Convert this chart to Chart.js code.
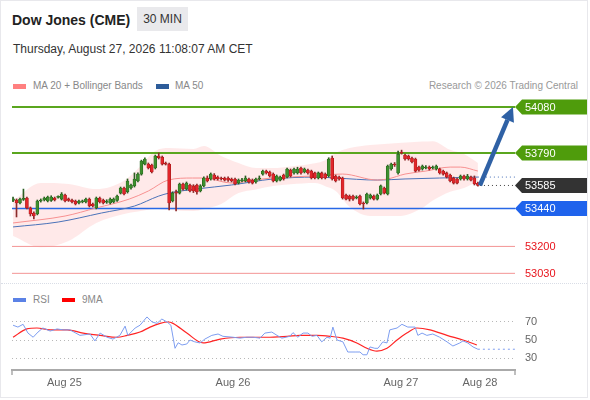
<!DOCTYPE html>
<html>
<head>
<meta charset="utf-8">
<script src="https://cdn.jsdelivr.net/npm/chart.js@4.4.1/dist/chart.umd.min.js"></script>
<style>
  html, body { margin: 0; padding: 0; background: #fff; }
  body { width: 590px; height: 400px; position: relative; overflow: hidden;
         font-family: "Liberation Sans", Arial, sans-serif; }
  .card { position: absolute; left: 0; top: 0; width: 588px; height: 398px;
          border: 1px solid #e8e8ec; box-sizing: border-box; }
  .abs { position: absolute; white-space: nowrap; }
  #title { left: 12px; top: 12px; font-size: 14px; line-height: 16px; font-weight: bold; color: #222; }
  #badge { left: 137px; top: 7px; width: 51px; height: 24px; line-height: 24px; background: #e9e9ec;
           font-size: 12px; color: #333; text-align: center; }
  #date { left: 13px; top: 42px; font-size: 12px; line-height: 14px; color: #333; }
  .leg { font-size: 10px; line-height: 12px; color: #888; }
  .sw { position: absolute; width: 13px; height: 5px; }
  #sep { left: 1px; top: 283px; width: 586px; height: 0; border-top: 1px dotted #d9dde6; }
  canvas { position: absolute; left: 0; }
</style>
</head>
<body>
<div class="card"></div>
<div id="title" class="abs">Dow Jones (CME)</div>
<div id="badge" class="abs">30 MIN</div>
<div id="date" class="abs">Thursday, August 27, 2026 11:08:07 AM CET</div>

<div class="sw" style="left:13px;top:84px;background:#ff8080"></div>
<div class="abs leg" style="left:33px;top:80px">MA 20 + Bollinger Bands</div>
<div class="sw" style="left:156px;top:84px;background:#2d5c9a"></div>
<div class="abs leg" style="left:175px;top:80px">MA 50</div>
<div class="abs leg" style="right:12px;top:80px;color:#999">Research © 2026 Trading Central</div>

<div id="sep" class="abs"></div>

<div class="sw" style="left:13px;top:298px;height:4px;background:#5b82e6"></div>
<div class="abs leg" style="left:33px;top:294px">RSI</div>
<div class="sw" style="left:62px;top:298px;height:4px;background:#ff0000"></div>
<div class="abs leg" style="left:82px;top:294px">9MA</div>

<canvas id="price" width="590" height="190" style="top:96px"></canvas>
<canvas id="rsi" width="590" height="100" style="top:300px"></canvas>

<script>
Chart.defaults.font.family = '"Liberation Sans", Arial, sans-serif';

// --- scales ---
const X_MIN = -0.3;
const X_MAX = 144.7;
const PRICE_MIN = 52950;
const PRICE_MAX = 54150;
const RSI_MIN = 17.5;
const RSI_MAX = 82.5;

// --- 30 min candles ---
const candleOpen = [
  53490, 53493, 53474, 53497, 53506, 53443, 53411, 53405, 53487, 53493,
  53487, 53490, 53506, 53510, 53499, 53525, 53500, 53493, 53487, 53474,
  53481, 53481, 53499, 53468, 53443, 53506, 53493, 53480, 53474, 53481,
  53490, 53537, 53569, 53545, 53569, 53582, 53613, 53657, 53720, 53720,
  53714, 53695, 53771, 53764, 53727, 53720, 53487, 53544, 53537, 53594,
  53562, 53588, 53582, 53588, 53550, 53582, 53632, 53626, 53651, 53638,
  53632, 53632, 53632, 53626, 53626, 53600, 53615, 53613, 53626, 53619,
  53607, 53626, 53657, 53676, 53670, 53657, 53613, 53619, 53651, 53638,
  53682, 53664, 53664, 53695, 53670, 53682, 53676, 53664, 53632, 53664,
  53657, 53645, 53758, 53645, 53638, 53632, 53525, 53518, 53518, 53506,
  53518, 53474, 53474, 53506, 53518, 53499, 53531, 53569, 53531, 53689,
  53720, 53664, 53796, 53777, 53771, 53758, 53752, 53701, 53689, 53695,
  53701, 53695, 53689, 53689, 53676, 53664, 53651, 53632, 53626, 53626,
  53645, 53626, 53638, 53632, 53600
];
const candleHigh = [
  53512, 53500, 53506, 53562, 53512, 53449, 53418, 53493, 53500, 53512,
  53518, 53520, 53512, 53520, 53540, 53531, 53506, 53499, 53493, 53493,
  53493, 53506, 53506, 53474, 53512, 53512, 53499, 53495, 53506, 53506,
  53525, 53575, 53575, 53626, 53594, 53664, 53664, 53745, 53760, 53727,
  53720, 53777, 53790, 53771, 53733, 53727, 53545, 53556, 53600, 53600,
  53607, 53594, 53590, 53594, 53590, 53640, 53645, 53664, 53660, 53645,
  53638, 53638, 53640, 53632, 53632, 53626, 53630, 53645, 53632, 53626,
  53632, 53645, 53682, 53682, 53676, 53664, 53651, 53645, 53657, 53695,
  53689, 53695, 53700, 53701, 53695, 53689, 53682, 53670, 53670, 53670,
  53664, 53760, 53771, 53651, 53645, 53638, 53531, 53525, 53525, 53520,
  53525, 53481, 53537, 53531, 53525, 53531, 53588, 53575, 53714, 53727,
  53730, 53802, 53808, 53783, 53777, 53764, 53758, 53708, 53714, 53710,
  53708, 53708, 53714, 53695, 53682, 53670, 53657, 53638, 53632, 53651,
  53651, 53655, 53645, 53645, 53607
];
const candleLow = [
  53482, 53386, 53468, 53490, 53437, 53392, 53373, 53399, 53480, 53487,
  53481, 53484, 53487, 53504, 53493, 53481, 53484, 53475, 53462, 53468,
  53475, 53475, 53449, 53449, 53437, 53474, 53468, 53472, 53468, 53475,
  53484, 53531, 53525, 53537, 53562, 53575, 53607, 53650, 53714, 53689,
  53664, 53689, 53752, 53714, 53714, 53430, 53481, 53424, 53531, 53556,
  53556, 53544, 53540, 53530, 53544, 53575, 53607, 53619, 53619, 53619,
  53619, 53613, 53610, 53607, 53588, 53594, 53607, 53607, 53600, 53594,
  53600, 53619, 53650, 53657, 53638, 53607, 53607, 53613, 53619, 53632,
  53638, 53657, 53657, 53657, 53664, 53657, 53626, 53626, 53626, 53626,
  53626, 53638, 53619, 53607, 53619, 53499, 53493, 53487, 53490, 53500,
  53462, 53436, 53468, 53499, 53493, 53493, 53525, 53531, 53525, 53682,
  53705, 53657, 53783, 53745, 53745, 53727, 53670, 53676, 53682, 53689,
  53682, 53689, 53682, 53657, 53650, 53632, 53607, 53594, 53594, 53619,
  53619, 53619, 53613, 53588, 53580
];
const candleClose = [
  53500, 53474, 53499, 53500, 53443, 53405, 53392, 53487, 53493, 53506,
  53512, 53512, 53493, 53512, 53531, 53487, 53490, 53481, 53468, 53487,
  53487, 53499, 53455, 53455, 53506, 53481, 53474, 53487, 53499, 53499,
  53518, 53569, 53531, 53613, 53588, 53626, 53657, 53739, 53752, 53695,
  53670, 53771, 53760, 53720, 53720, 53474, 53537, 53537, 53594, 53562,
  53600, 53550, 53550, 53544, 53582, 53632, 53613, 53657, 53626, 53626,
  53626, 53619, 53619, 53613, 53594, 53619, 53620, 53632, 53607, 53600,
  53626, 53632, 53676, 53664, 53645, 53613, 53645, 53638, 53626, 53689,
  53645, 53689, 53689, 53664, 53689, 53664, 53632, 53632, 53664, 53632,
  53632, 53752, 53626, 53613, 53626, 53506, 53499, 53499, 53499, 53512,
  53468, 53468, 53531, 53525, 53499, 53525, 53582, 53537, 53708, 53720,
  53714, 53783, 53790, 53752, 53752, 53733, 53676, 53682, 53708, 53701,
  53689, 53700, 53708, 53664, 53657, 53638, 53613, 53600, 53600, 53645,
  53626, 53645, 53619, 53594, 53585
];

// --- indicators (sampled along the curves) ---
const bandX     = [0, 8, 16, 24, 32, 36, 41, 45, 52, 55, 60, 65, 70, 75, 80, 87, 90, 93, 97, 103, 111, 118, 121, 126, 130, 134];
const bandUpper = [53487, 53600, 53594, 53562, 53615, 53690, 53802, 53821, 53815, 53834, 53771, 53727, 53695, 53695, 53705, 53725, 53745, 53790, 53821, 53840, 53853, 53862, 53865, 53810, 53783, 53727];
const bandLower = [53266, 53195, 53235, 53348, 53405, 53420, 53436, 53430, 53424, 53435, 53468, 53537, 53560, 53582, 53592, 53600, 53580, 53550, 53450, 53392, 53392, 53443, 53490, 53545, 53569, 53613];

const ma20X = [0, 15, 24, 33.5, 39, 44.7, 51.7, 55, 63, 69.5, 74.5, 86.7, 95, 105, 108, 113, 119, 126, 129, 134];
const ma20Y = [53348, 53392, 53443, 53499, 53550, 53619, 53632, 53632, 53600, 53619, 53632, 53645, 53657, 53619, 53626, 53657, 53676, 53701, 53701, 53676];

const ma50X = [0, 13, 25.5, 35, 42, 45, 53, 63, 75, 87, 93, 105, 113, 123, 134];
const ma50Y = [53323, 53354, 53411, 53455, 53518, 53537, 53563, 53588, 53626, 53638, 53632, 53619, 53626, 53632, 53638];

// --- key levels ---
const levelPrices = [54080, 53790, 53440, 53200, 53030];
const lastPrice = 53585;
const tagPrices = [54080, 53790, 53585, 53440, 53200, 53030];

// --- RSI panel ---
const rsiX = [0, 1.4, 2.9, 4.3, 5.8, 7.2, 8.6, 10.7, 12.7, 14.4, 16.4, 19.3, 22.2, 23.6, 25.1, 27.1, 28.8, 30.8, 32.3, 33.1,
  35.2, 36.6, 38.6, 40.1, 41.5, 42.9, 44.4, 45.5, 46.7, 47.6, 48.7, 50.1, 51, 52.4, 53.9, 55.3, 57.3, 59.1, 60.5, 63.4,
  65.4, 67.4, 69.2, 71.2, 72.6, 74.6, 76.1, 77.5, 79.8, 80.7, 82.1, 83.6, 85, 86.2, 87.6, 89, 90.5, 91.4, 92.2, 93.4,
  95.1, 96.5, 98.6, 100, 100.9, 102, 102.9, 104.3, 105.2, 106.6, 107.8, 108.6, 110.7, 112.1, 113.8, 115.9, 116.7, 117.9, 119.3, 121,
  123, 125.1, 126.8, 128.8, 129.7, 131.1, 132.6, 134];
const rsiY = [66, 64, 67, 57.5, 53, 58.6, 63, 59.7, 62, 61, 61, 55, 56.5, 49, 57.5, 53, 51, 55, 65, 55,
  63, 66, 75, 69.5, 68, 72.7, 69.5, 66, 41, 47, 44.6, 45.7, 50, 48, 46.8, 51, 55, 56.5, 54, 53,
  52, 53, 53, 52, 57.5, 58.6, 55, 52, 54, 58, 53, 57.5, 57.5, 54, 55, 48, 53, 52, 64, 50,
  48, 37, 37, 37, 34, 34, 42.5, 41, 41, 48, 46.8, 61, 63, 67, 64, 64, 55, 57.5, 55, 56.5,
  53, 48, 43.5, 46.8, 49, 46.8, 42.5, 40];
const ma9X = [0, 4, 6.9, 10.7, 15.6, 20.2, 25.1, 30, 32.9, 36.6, 39.5, 42.4, 44.7, 46.1, 50.1, 54.8, 59.7, 65.4, 73.2, 79,
  82.7, 87.6, 91.4, 95.1, 99.1, 102, 104.9, 107.8, 110.7, 113.5, 116.4, 120.2, 125.1, 129.7, 133.7];
const ma9Y = [53, 62, 63, 61, 61, 57.5, 55, 53, 55, 58.6, 64, 68, 69.5, 68, 57.5, 46.8, 51, 53, 53, 54,
  55, 55, 54, 52, 46.8, 41, 38, 41, 50, 57.5, 63, 61, 55, 50, 44.6];
const rsiTicks = [30, 50, 70];
const dayTicks = [14.8, 63.4, 111.8, 134.6];
const dayLabels = ['Aug 25', 'Aug 26', 'Aug 27', 'Aug 28'];

// --- styles ---
const GREEN = '#4f9c0c';
const levelStyle = [
  { color: '#5aa61e', width: 2 },
  { color: '#5aa61e', width: 2 },
  { color: '#2868e6', width: 1.5 },
  { color: '#f39595', width: 1 },
  { color: '#f39595', width: 1 }
];
const tagStyle = [
  { bg: GREEN, text: '#fff' },
  { bg: GREEN, text: '#fff' },
  { bg: '#333333', text: '#fff' },
  { bg: '#1f63ec', text: '#fff' },
  { bg: null, text: '#e8141c' },
  { bg: null, text: '#e8141c' }
];

const pts = (xs, ys) => xs.map((x, i) => ({ x, y: ys[i] }));
const idx = candleOpen.map((_, i) => i);
const up = idx.map(i => candleClose[i] >= candleOpen[i]);
const lastX = candleClose.length - 1;

// tags on the right + forecast arrow
const tagsPlugin = {
  id: 'tags',
  afterDraw(chart) {
    const { ctx, chartArea, scales: { x, y } } = chart;
    ctx.save();

    // arrow from last close toward first target
    const ax0 = x.getPixelForValue(lastX + 0.6), ay0 = y.getPixelForValue(lastPrice);
    const ax1 = x.getPixelForValue(X_MAX - 0.6), ay1 = y.getPixelForValue(levelPrices[0]);
    const ang = Math.atan2(ay1 - ay0, ax1 - ax0);
    const head = 14, hw = 7;
    const bx = ax1 - head * Math.cos(ang), by = ay1 - head * Math.sin(ang);
    ctx.strokeStyle = '#2f61a5';
    ctx.fillStyle = '#2f61a5';
    ctx.lineWidth = 4.5;
    ctx.beginPath(); ctx.moveTo(ax0, ay0); ctx.lineTo(bx, by); ctx.stroke();
    ctx.beginPath();
    ctx.moveTo(ax1, ay1);
    ctx.lineTo(bx + hw * Math.sin(ang), by - hw * Math.cos(ang));
    ctx.lineTo(bx - hw * Math.sin(ang), by + hw * Math.cos(ang));
    ctx.closePath(); ctx.fill();

    ctx.font = '11px "Liberation Sans", Arial, sans-serif';
    ctx.textBaseline = 'middle';
    tagPrices.forEach((p, k) => {
      const py = y.getPixelForValue(p);
      const st = tagStyle[k];
      const x0 = chartArea.right, x1 = x0 + 7, x2 = chart.width - 3;
      if (st.bg) {
        ctx.fillStyle = st.bg;
        ctx.beginPath();
        ctx.moveTo(x0, py);
        ctx.lineTo(x1, py - 7.5); ctx.lineTo(x2, py - 7.5);
        ctx.lineTo(x2, py + 7.5); ctx.lineTo(x1, py + 7.5);
        ctx.closePath(); ctx.fill();
      }
      ctx.fillStyle = st.text;
      ctx.fillText(String(p), x0 + 10, py + 0.5);
    });
    ctx.restore();
  }
};

new Chart(document.getElementById('price'), {
  type: 'bar',
  data: {
    datasets: [
      // bollinger band (upper fills down to lower)
      { type: 'line', data: pts(bandX, bandUpper), borderWidth: 0, pointRadius: 0,
        fill: '+1', backgroundColor: 'rgba(255, 105, 105, 0.15)', cubicInterpolationMode: 'monotone', order: 20 },
      { type: 'line', data: pts(bandX, bandLower), borderWidth: 0, pointRadius: 0,
        fill: false, cubicInterpolationMode: 'monotone', order: 20 },
      // key levels
      ...levelPrices.map((p, k) => ({
        type: 'line', data: [{ x: X_MIN, y: p }, { x: X_MAX, y: p }],
        borderColor: levelStyle[k].color, borderWidth: levelStyle[k].width, pointRadius: 0, order: 12
      })),
      // MA 20 / MA 50
      { type: 'line', data: pts(ma20X, ma20Y), borderColor: '#f79090', borderWidth: 1, pointRadius: 0,
        cubicInterpolationMode: 'monotone', order: 8 },
      { type: 'line', data: pts(ma50X, ma50Y), borderColor: '#4a72b8', borderWidth: 1, pointRadius: 0,
        cubicInterpolationMode: 'monotone', order: 8 },
      { type: 'line', data: [{ x: ma50X[ma50X.length - 1], y: ma50Y[ma50Y.length - 1] }, { x: X_MAX, y: ma50Y[ma50Y.length - 1] }],
        borderColor: '#4a72b8', borderWidth: 1, borderDash: [1, 3], pointRadius: 0, order: 8 },
      { type: 'line', data: [{ x: lastX + 0.6, y: lastPrice }, { x: X_MAX, y: lastPrice }],
        borderColor: '#444', borderWidth: 1, borderDash: [1, 3], pointRadius: 0, order: 8 },
      // wicks
      { type: 'bar', data: idx.map(i => ({ x: i, y: [candleLow[i], candleHigh[i]] })),
        backgroundColor: up.map(u => u ? '#2c5e22' : '#8c2b2b'), barThickness: 1, grouped: false, order: 2 },
      // bodies
      { type: 'bar', data: idx.map(i => ({ x: i, y: [candleOpen[i], candleClose[i]] })),
        backgroundColor: up.map(u => u ? '#3d8f2e' : '#e2262b'),
        borderColor: up.map(u => u ? '#23601a' : '#a31616'),
        borderWidth: 0.6, borderSkipped: false, barThickness: 3, minBarLength: 1, grouped: false, order: 1 }
    ]
  },
  options: {
    responsive: false,
    animation: false,
    layout: { padding: { left: 12, right: 75, top: 0, bottom: 0 } },
    scales: {
      x: { type: 'linear', display: false, min: X_MIN, max: X_MAX, offset: false },
      y: { display: false, min: PRICE_MIN, max: PRICE_MAX }
    },
    plugins: { legend: { display: false }, tooltip: { enabled: false } }
  },
  plugins: [tagsPlugin]
});

// small end ticks on the time axis
const axisEnds = {
  id: 'axisEnds',
  afterDraw(chart) {
    const { ctx, chartArea } = chart;
    ctx.save();
    ctx.strokeStyle = '#aaa';
    ctx.lineWidth = 1.5;
    [chartArea.left, chartArea.right].forEach(px => {
      ctx.beginPath(); ctx.moveTo(px, chartArea.bottom); ctx.lineTo(px, chartArea.bottom + 5); ctx.stroke();
    });
    ctx.restore();
  }
};

new Chart(document.getElementById('rsi'), {
  type: 'line',
  data: {
    datasets: [
      { data: pts(rsiX, rsiY), borderColor: '#7d9df0', borderWidth: 1, pointRadius: 0, tension: 0 },
      { data: [{ x: rsiX[rsiX.length - 1], y: rsiY[rsiY.length - 1] }, { x: X_MAX, y: rsiY[rsiY.length - 1] }],
        borderColor: '#7d9df0', borderWidth: 1, borderDash: [2, 3], pointRadius: 0 },
      { data: pts(ma9X, ma9Y), borderColor: '#ff2424', borderWidth: 1.2, pointRadius: 0, cubicInterpolationMode: 'monotone' }
    ]
  },
  options: {
    responsive: false,
    animation: false,
    layout: { padding: { left: 12, right: 0, top: 10, bottom: 0 } },
    scales: {
      x: {
        type: 'linear', min: X_MIN, max: X_MAX, offset: false,
        afterBuildTicks: s => { s.ticks = dayTicks.map(v => ({ value: v })); },
        afterFit: s => { s.height = 30; s.paddingLeft = 0; s.paddingRight = 0; },
        ticks: { autoSkip: false, maxRotation: 0, padding: 6, color: '#666', font: { size: 11 },
                 callback: (v, i) => dayLabels[i] },
        grid: { display: false, drawTicks: false },
        border: { display: true, color: '#aaa', width: 2 }
      },
      y: {
        position: 'right', min: RSI_MIN, max: RSI_MAX,
        afterBuildTicks: s => { s.ticks = rsiTicks.map(v => ({ value: v })); },
        afterFit: s => { s.width = 75; s.paddingTop = 0; s.paddingBottom = 0; },
        ticks: { padding: 10, color: '#666', font: { size: 11 } },
        grid: { color: '#b8b8b8', lineWidth: 1, drawTicks: false },
        border: { display: false, dash: [1, 3] }
      }
    },
    plugins: { legend: { display: false }, tooltip: { enabled: false } }
  },
  plugins: [axisEnds]
});
</script>
</body>
</html>
